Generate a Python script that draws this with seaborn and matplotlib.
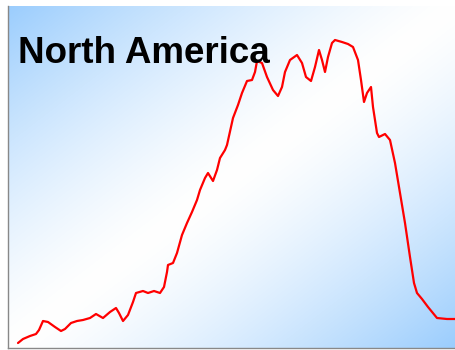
import numpy as np
import pandas as pd
import matplotlib
matplotlib.use("Agg")
import matplotlib.pyplot as plt
import seaborn as sns

# values (x = time step, y = level)
x_vals = [10, 15, 22, 28, 31, 35, 40, 47, 53, 57,
          63, 69, 75, 82, 88, 95, 102, 108, 111, 115,
          120, 125, 128, 135, 140, 146, 152, 156, 159, 160,
          165, 169, 174, 179, 184, 189, 192, 197, 200, 205,
          209, 212, 217, 219, 225, 230, 234, 239, 244, 247,
          249, 254, 259, 265, 270, 274, 277, 282, 289, 294,
          298, 303, 307, 311, 314, 317, 320, 324, 327, 334,
          340, 345, 350, 353, 356, 359, 363, 365, 369, 371,
          377, 382, 387, 392, 397, 402, 406, 409, 414, 420,
          429, 439, 447]
y_vals = [5, 9, 12, 14, 18, 27, 26, 21, 17, 19,
          25, 27, 28, 30, 34, 30, 36, 40, 35, 27,
          33, 46, 55, 57, 55, 57, 55, 61, 76, 83,
          85, 95, 113, 125, 136, 148, 158, 170, 175, 167,
          178, 190, 198, 203, 230, 243, 255, 267, 268, 276,
          287, 285, 271, 258, 252, 261, 276, 288, 293, 285,
          271, 267, 281, 298, 288, 276, 291, 305, 308, 306,
          304, 301, 288, 268, 246, 255, 261, 241, 215, 211,
          214, 208, 185, 155, 125, 91, 65, 55, 49, 41,
          30, 29, 29]
title = "North America"

df = pd.DataFrame({"t": x_vals, "v": y_vals})

sns.set_style("white")
fig = plt.figure(figsize=(4.55, 3.5), dpi=100)
ax = fig.add_axes([8 / 455, 2 / 350, 447 / 455, 342 / 350])

# blue - white - blue gradient from top-left to bottom-right corner
u = np.linspace(0, 1, 400)
v = np.linspace(1, 0, 400)
U, V = np.meshgrid(u, v)
t = (np.abs(U - V) ** 1.35)[..., None]
blue = np.array([155, 205, 253]) / 255.0
img = (1 - t) * np.ones(3) + t * blue
ax.imshow(img, extent=[0, 447, 0, 342], aspect="auto", zorder=0)

fig.text(18 / 455, (350 - 63) / 350, title, fontsize=26.5, fontweight="bold",
         family="Liberation Sans", color="black", va="baseline", ha="left", zorder=1)

sns.lineplot(data=df, x="t", y="v", ax=ax, color="red", linewidth=1.6, zorder=3)

ax.set_xlim(0, 447)
ax.set_ylim(0, 342)
ax.set_xticks(np.arange(0, 447, 19.8))
ax.set_yticks(np.arange(21, 342, 24.8))
ax.set_xticklabels([])
ax.set_yticklabels([])
ax.set_xlabel("")
ax.set_ylabel("")
ax.tick_params(axis="both", direction="inout", length=3, width=0.8, color="#777777")
for side in ["top", "right"]:
    ax.spines[side].set_visible(False)
for side in ["left", "bottom"]:
    ax.spines[side].set_color("#888888")
    ax.spines[side].set_linewidth(1)

fig.savefig("out.png", dpi=100)
